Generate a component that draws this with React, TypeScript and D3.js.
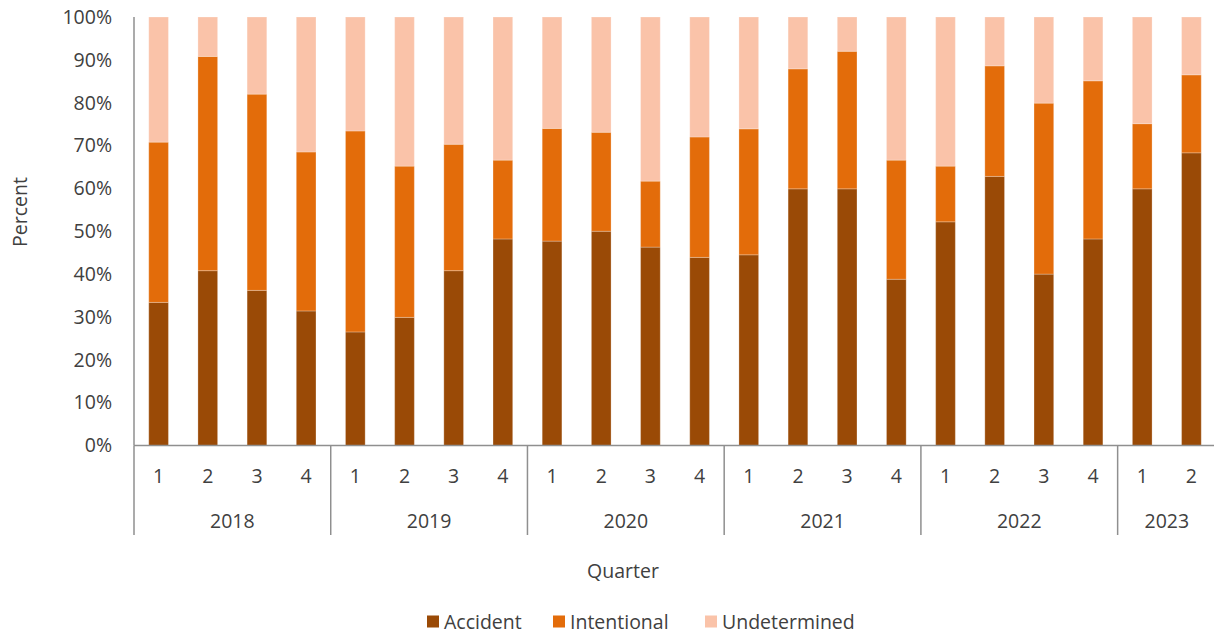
import React from "react";
import * as d3 from "d3";

const years = ["2018", "2019", "2020", "2021", "2022", "2023"];
const quarters = ["1", "2", "3", "4", "1", "2", "3", "4", "1", "2", "3", "4", "1", "2", "3", "4", "1", "2", "3", "4", "1", "2"];
const quarterYears = ["2018", "2018", "2018", "2018", "2019", "2019", "2019", "2019", "2020", "2020", "2020", "2020", "2021", "2021", "2021", "2021", "2022", "2022", "2022", "2022", "2023", "2023"];
const accident = [33.4, 40.8, 36.2, 31.4, 26.5, 29.9, 40.8, 48.2, 47.7, 50.0, 46.3, 43.9, 44.5, 59.9, 59.9, 38.8, 52.2, 62.8, 40.0, 48.2, 59.9, 68.3];
const intentional = [37.4, 50.0, 45.8, 37.1, 46.9, 35.3, 29.5, 18.4, 26.3, 23.1, 15.4, 28.1, 29.4, 28.0, 32.1, 27.8, 13.0, 25.8, 39.9, 36.9, 15.2, 18.2];
const undetermined = [29.2, 9.2, 18.0, 31.5, 26.6, 34.8, 29.7, 33.4, 26.0, 26.9, 38.3, 28.0, 26.1, 12.1, 8.0, 33.4, 34.8, 11.4, 20.1, 14.9, 24.9, 13.5];
const seriesNames = ["Accident", "Intentional", "Undetermined"];
const yTicks = [0, 10, 20, 30, 40, 50, 60, 70, 80, 90, 100];

const colors = ["#9A4A06", "#E36C0A", "#FAC3A9"];
const FONT = "'Open Sans', sans-serif";
const TEXT = "#404040";
const AXIS = "#8f8f8f";

export default function App() {
  const W = 1214, H = 637;
  const left = 134, right = 1216, top = 17, bottom = 445.5;
  const ids = quarters.map((_, i) => String(i));
  const x = d3.scaleBand<string>().domain(ids).range([left, right]).paddingInner(0.6).paddingOuter(0.3);
  const y = d3.scaleLinear().domain([0, 100]).range([bottom, top]);
  const rows = ids.map((id, i) => ({ id, Accident: accident[i], Intentional: intentional[i], Undetermined: undetermined[i] }));
  const stacked = d3.stack<any>().keys(seriesNames)(rows);
  const step = x.step();
  // year boundaries
  const yearStarts: number[] = [];
  const yearInfo = years.map((yr) => {
    const idx = quarterYears.map((q, i) => (q === yr ? i : -1)).filter((i) => i >= 0);
    const x0 = left + idx[0] * step;
    const x1 = left + (idx[idx.length - 1] + 1) * step;
    yearStarts.push(x0);
    return { yr, x0, x1 };
  });
  const sepBottom = 535;

  const legendItems = [
    { name: "Accident", x: 427 },
    { name: "Intentional", x: 553 },
    { name: "Undetermined", x: 705 },
  ];

  return (
    <svg width={W} height={H} style={{ position: "absolute", left: 0, top: 0, background: "#fff" }} fontFamily={FONT}>
      {stacked.map((s, si) => (
        <g key={s.key} fill={colors[si]}>
          {s.map((d, i) => (
            <rect
              key={i}
              x={x(ids[i])}
              width={x.bandwidth()}
              y={y(d[1])}
              height={Math.max(0, y(d[0]) - y(d[1]))}
              stroke="#ffffff"
              strokeOpacity={0.25}
              strokeWidth={1}
            />
          ))}
        </g>
      ))}
      {/* y axis */}
      <line x1={left} x2={left} y1={top} y2={bottom} stroke={AXIS} strokeWidth={1.5} />
      {yTicks.map((t) => (
        <text key={t} x={112} y={y(t)} dy="0.35em" textAnchor="end" fontSize={19.5} fill={TEXT}>
          {t}%
        </text>
      ))}
      {/* x axis baseline */}
      <line x1={left} x2={right} y1={bottom} y2={bottom} stroke={AXIS} strokeWidth={1.5} />
      {yearStarts.map((xs, i) => (
        <line key={i} x1={xs} x2={xs} y1={bottom} y2={sepBottom} stroke={AXIS} strokeWidth={1.5} />
      ))}
      {quarters.map((q, i) => (
        <text key={i} x={(x(ids[i]) as number) + x.bandwidth() / 2} y={476} dy="0.35em" textAnchor="middle" fontSize={19.5} fill={TEXT}>
          {q}
        </text>
      ))}
      {yearInfo.map((yi) => (
        <text key={yi.yr} x={(yi.x0 + yi.x1) / 2} y={521} dy="0.35em" textAnchor="middle" fontSize={19.5} fill={TEXT}>
          {yi.yr}
        </text>
      ))}
      <text x={623} y={571} dy="0.35em" textAnchor="middle" fontSize={19.5} fill={TEXT}>
        Quarter
      </text>
      <text transform={`translate(20,212) rotate(-90)`} dy="0.35em" textAnchor="middle" fontSize={19.5} fill={TEXT}>
        Percent
      </text>
      {legendItems.map((it, i) => (
        <g key={it.name}>
          <rect x={it.x} y={615.5} width={12} height={12} fill={colors[i]} />
          <text x={it.x + 17} y={622} dy="0.35em" fontSize={19.5} fill={TEXT}>
            {it.name}
          </text>
        </g>
      ))}
    </svg>
  );
}
